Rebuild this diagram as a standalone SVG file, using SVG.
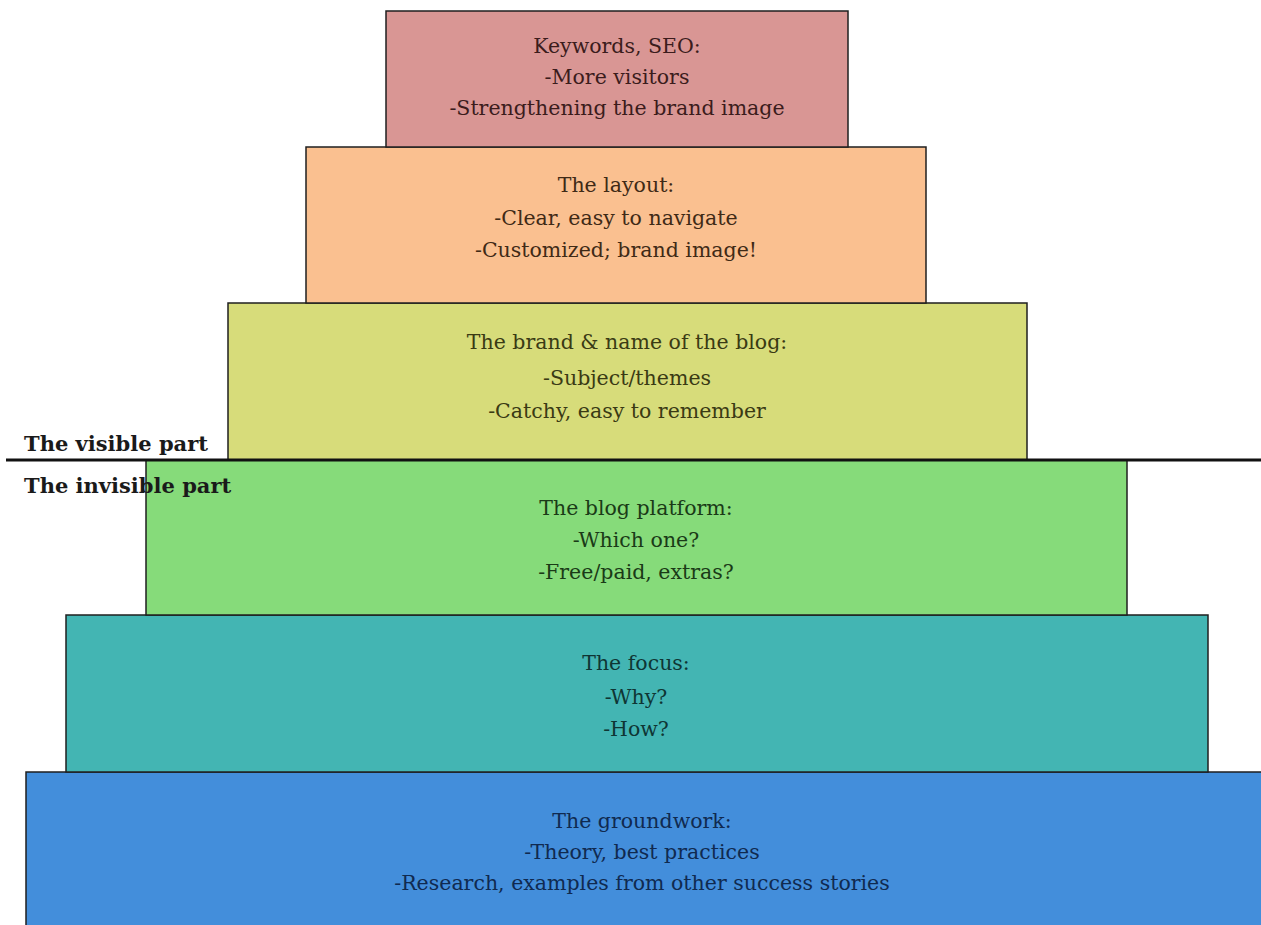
<svg xmlns="http://www.w3.org/2000/svg" width="1261" height="925" viewBox="0 0 1261 925">
<style>
.box{stroke:#1f1f1f;stroke-width:1.5}
.t{font-family:"DejaVu Serif","Liberation Serif",serif;font-size:20.5px;text-anchor:middle}
.lbl{font-family:"DejaVu Serif","Liberation Serif",serif;font-size:21px;font-weight:bold;fill:#1a1a1a}
</style>
<rect width="1261" height="925" fill="#ffffff"/>
<g id="node-groundwork">
<rect class="box" x="26" y="772" width="1240" height="160" fill="#438edb"/>
<text class="t" fill="#102a50"><tspan x="642" y="828">The groundwork:</tspan><tspan x="642" y="859">-Theory, best practices</tspan><tspan x="642" y="890">-Research, examples from other success stories</tspan></text>
</g>
<g id="node-focus">
<rect class="box" x="66" y="615" width="1142" height="157" fill="#43b5b3"/>
<text class="t" fill="#0f3534"><tspan x="636" y="670">The focus:</tspan><tspan x="636" y="704">-Why?</tspan><tspan x="636" y="736">-How?</tspan></text>
</g>
<g id="node-platform">
<rect class="box" x="146" y="460" width="981" height="155" fill="#86db7a"/>
<text class="t" fill="#1a3a17"><tspan x="636" y="515">The blog platform:</tspan><tspan x="636" y="547">-Which one?</tspan><tspan x="636" y="579">-Free/paid, extras?</tspan></text>
</g>
<g id="node-brand">
<rect class="box" x="228" y="303" width="799" height="157" fill="#d7dc7a"/>
<text class="t" fill="#3a3a14"><tspan x="627" y="349">The brand &amp; name of the blog:</tspan><tspan x="627" y="385">-Subject/themes</tspan><tspan x="627" y="418">-Catchy, easy to remember</tspan></text>
</g>
<g id="node-layout">
<rect class="box" x="306" y="147" width="620" height="156" fill="#fac090"/>
<text class="t" fill="#3f2a16"><tspan x="616" y="192">The layout:</tspan><tspan x="616" y="225">-Clear, easy to navigate</tspan><tspan x="616" y="257">-Customized; brand image!</tspan></text>
</g>
<g id="node-seo">
<rect class="box" x="386" y="11" width="462" height="136" fill="#d99694"/>
<text class="t" fill="#3b1c1c"><tspan x="617" y="53">Keywords, SEO:</tspan><tspan x="617" y="84">-More visitors</tspan><tspan x="617" y="115">-Strengthening the brand image</tspan></text>
</g>
<g id="connectors">
<line x1="6" y1="460" x2="1261" y2="460" stroke="#111111" stroke-width="3"/>
</g>
<text class="lbl" x="24" y="451">The visible part</text>
<text class="lbl" x="24" y="493">The invisible part</text>
</svg>
